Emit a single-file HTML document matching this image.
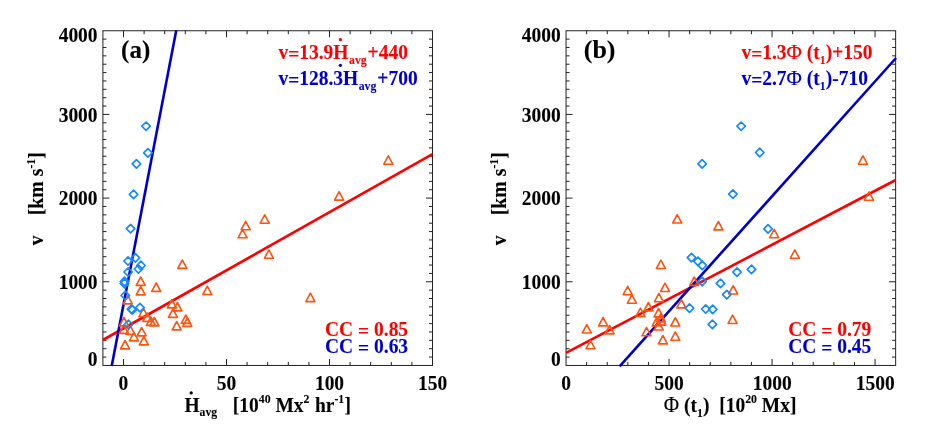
<!DOCTYPE html>
<html><head><meta charset="utf-8"><title>fig</title>
<style>
html,body{margin:0;padding:0;background:#fff;}
body{width:926px;height:431px;overflow:hidden;}
svg{display:block;will-change:transform;}
text{font-family:"Liberation Serif",serif;font-weight:bold;stroke-width:0.1px;stroke-linejoin:round;}
.reg{font-weight:normal;}
</style></head><body>
<svg width="926" height="431" viewBox="0 0 926 431">
<rect width="926" height="431" fill="#fff"/>
<g stroke="#222" stroke-width="1.0">
<rect x="102.90" y="30.75" width="329.60" height="334.70" fill="none"/>
<path d="M123.50 365.45v-6.5M123.50 30.75v6.5M144.10 365.45v-3.5M144.10 30.75v3.5M164.70 365.45v-3.5M164.70 30.75v3.5M185.30 365.45v-3.5M185.30 30.75v3.5M205.90 365.45v-3.5M205.90 30.75v3.5M226.50 365.45v-6.5M226.50 30.75v6.5M247.10 365.45v-3.5M247.10 30.75v3.5M267.70 365.45v-3.5M267.70 30.75v3.5M288.30 365.45v-3.5M288.30 30.75v3.5M308.90 365.45v-3.5M308.90 30.75v3.5M329.50 365.45v-6.5M329.50 30.75v6.5M350.10 365.45v-3.5M350.10 30.75v3.5M370.70 365.45v-3.5M370.70 30.75v3.5M391.30 365.45v-3.5M391.30 30.75v3.5M411.90 365.45v-3.5M411.90 30.75v3.5M102.90 357.08h3.5M432.50 357.08h-3.5M102.90 348.71h3.5M432.50 348.71h-3.5M102.90 340.35h3.5M432.50 340.35h-3.5M102.90 331.98h3.5M432.50 331.98h-3.5M102.90 323.61h3.5M432.50 323.61h-3.5M102.90 315.25h3.5M432.50 315.25h-3.5M102.90 306.88h3.5M432.50 306.88h-3.5M102.90 298.51h3.5M432.50 298.51h-3.5M102.90 290.14h3.5M432.50 290.14h-3.5M102.90 281.77h6.5M432.50 281.77h-6.5M102.90 273.41h3.5M432.50 273.41h-3.5M102.90 265.04h3.5M432.50 265.04h-3.5M102.90 256.67h3.5M432.50 256.67h-3.5M102.90 248.30h3.5M432.50 248.30h-3.5M102.90 239.94h3.5M432.50 239.94h-3.5M102.90 231.57h3.5M432.50 231.57h-3.5M102.90 223.20h3.5M432.50 223.20h-3.5M102.90 214.84h3.5M432.50 214.84h-3.5M102.90 206.47h3.5M432.50 206.47h-3.5M102.90 198.10h6.5M432.50 198.10h-6.5M102.90 189.73h3.5M432.50 189.73h-3.5M102.90 181.37h3.5M432.50 181.37h-3.5M102.90 173.00h3.5M432.50 173.00h-3.5M102.90 164.63h3.5M432.50 164.63h-3.5M102.90 156.26h3.5M432.50 156.26h-3.5M102.90 147.90h3.5M432.50 147.90h-3.5M102.90 139.53h3.5M432.50 139.53h-3.5M102.90 131.16h3.5M432.50 131.16h-3.5M102.90 122.79h3.5M432.50 122.79h-3.5M102.90 114.42h6.5M432.50 114.42h-6.5M102.90 106.06h3.5M432.50 106.06h-3.5M102.90 97.69h3.5M432.50 97.69h-3.5M102.90 89.32h3.5M432.50 89.32h-3.5M102.90 80.95h3.5M432.50 80.95h-3.5M102.90 72.59h3.5M432.50 72.59h-3.5M102.90 64.22h3.5M432.50 64.22h-3.5M102.90 55.85h3.5M432.50 55.85h-3.5M102.90 47.48h3.5M432.50 47.48h-3.5M102.90 39.12h3.5M432.50 39.12h-3.5" fill="none"/>
</g>
<g stroke-width="2.6" fill="none" stroke-linecap="butt">
<line x1="102.9" y1="340.0" x2="432.5" y2="154.1" stroke="#FF0000"/>
<line x1="111.7" y1="365.9" x2="176.28" y2="30.3" stroke="#0000CD"/>
</g>
<g stroke="#FF5410" stroke-width="1.6" fill="none" stroke-linejoin="round">
<path d="M383.8 164.2L388.3 155.8L392.8 164.2Z"/>
<path d="M334.6 200.1L339.1 191.7L343.6 200.1Z"/>
<path d="M260.2 223.2L264.7 214.8L269.2 223.2Z"/>
<path d="M241.2 229.7L245.7 221.3L250.2 229.7Z"/>
<path d="M238.1 237.8L242.6 229.4L247.1 237.8Z"/>
<path d="M264.4 258.3L268.9 249.9L273.4 258.3Z"/>
<path d="M177.8 268.4L182.3 260.0L186.8 268.4Z"/>
<path d="M136.2 285.4L140.7 277.0L145.2 285.4Z"/>
<path d="M151.7 291.4L156.2 283.0L160.7 291.4Z"/>
<path d="M202.8 294.5L207.3 286.1L211.8 294.5Z"/>
<path d="M136.2 294.9L140.7 286.5L145.2 294.9Z"/>
<path d="M305.9 301.6L310.4 293.2L314.9 301.6Z"/>
<path d="M123.3 303.9L127.8 295.5L132.3 303.9Z"/>
<path d="M167.4 307.9L171.9 299.5L176.4 307.9Z"/>
<path d="M172.9 310.9L177.4 302.5L181.9 310.9Z"/>
<path d="M138.9 316.8L143.4 308.4L147.9 316.8Z"/>
<path d="M168.4 317.4L172.9 309.0L177.4 317.4Z"/>
<path d="M142.9 321.4L147.4 313.0L151.9 321.4Z"/>
<path d="M181.3 323.4L185.8 315.0L190.3 323.4Z"/>
<path d="M146.4 325.4L150.9 317.0L155.4 325.4Z"/>
<path d="M149.9 325.9L154.4 317.5L158.9 325.9Z"/>
<path d="M119.5 325.9L124.0 317.5L128.5 325.9Z"/>
<path d="M182.8 326.4L187.3 318.0L191.8 326.4Z"/>
<path d="M172.2 329.9L176.7 321.5L181.2 329.9Z"/>
<path d="M119.3 333.4L123.8 325.0L128.3 333.4Z"/>
<path d="M125.9 334.4L130.4 326.0L134.9 334.4Z"/>
<path d="M137.2 335.9L141.7 327.5L146.2 335.9Z"/>
<path d="M129.4 340.9L133.9 332.5L138.4 340.9Z"/>
<path d="M139.4 344.9L143.9 336.5L148.4 344.9Z"/>
<path d="M120.5 348.9L125.0 340.5L129.5 348.9Z"/>
</g>
<g stroke="#148AFF" stroke-width="1.65" fill="none" stroke-linejoin="round">
<path d="M141.8 126.2L146.1 122.0L150.3 126.2L146.1 130.4Z"/>
<path d="M143.7 152.8L147.9 148.6L152.2 152.8L147.9 157.1Z"/>
<path d="M132.2 163.8L136.4 159.6L140.7 163.8L136.4 168.1Z"/>
<path d="M129.3 194.4L133.6 190.2L137.8 194.4L133.6 198.7Z"/>
<path d="M126.3 228.7L130.6 224.4L134.8 228.7L130.6 232.9Z"/>
<path d="M131.2 257.8L135.4 253.6L139.7 257.8L135.4 262.1Z"/>
<path d="M123.8 261.0L128.0 256.8L132.2 261.0L128.0 265.2Z"/>
<path d="M136.7 265.5L140.9 261.2L145.2 265.5L140.9 269.8Z"/>
<path d="M134.2 269.0L138.4 264.8L142.7 269.0L138.4 273.2Z"/>
<path d="M123.9 272.0L128.2 267.8L132.4 272.0L128.2 276.2Z"/>
<path d="M120.2 281.5L124.5 277.2L128.8 281.5L124.5 285.8Z"/>
<path d="M120.2 283.5L124.5 279.2L128.8 283.5L124.5 287.8Z"/>
<path d="M121.0 295.5L125.3 291.2L129.6 295.5L125.3 299.8Z"/>
<path d="M135.7 307.6L139.9 303.4L144.2 307.6L139.9 311.9Z"/>
<path d="M127.2 309.0L131.5 304.8L135.8 309.0L131.5 313.2Z"/>
<path d="M128.1 309.8L132.3 305.6L136.6 309.8L132.3 314.1Z"/>
<path d="M124.2 324.5L128.5 320.2L132.8 324.5L128.5 328.8Z"/>
</g>
<text transform="translate(97.60 42.45) scale(1 1.085)" font-size="19.5" fill="#000" stroke="#000" text-anchor="end">4000</text>
<text transform="translate(97.60 121.65) scale(1 1.085)" font-size="19.5" fill="#000" stroke="#000" text-anchor="end">3000</text>
<text transform="translate(97.60 205.35) scale(1 1.085)" font-size="19.5" fill="#000" stroke="#000" text-anchor="end">2000</text>
<text transform="translate(97.60 289.05) scale(1 1.085)" font-size="19.5" fill="#000" stroke="#000" text-anchor="end">1000</text>
<text transform="translate(97.60 366.40) scale(1 1.085)" font-size="19.5" fill="#000" stroke="#000" text-anchor="end">0</text>
<g stroke="#222" stroke-width="1.0">
<rect x="566.05" y="30.75" width="329.60" height="334.70" fill="none"/>
<path d="M586.65 365.45v-3.5M586.65 30.75v3.5M607.25 365.45v-3.5M607.25 30.75v3.5M627.85 365.45v-3.5M627.85 30.75v3.5M648.45 365.45v-3.5M648.45 30.75v3.5M669.05 365.45v-6.5M669.05 30.75v6.5M689.65 365.45v-3.5M689.65 30.75v3.5M710.25 365.45v-3.5M710.25 30.75v3.5M730.85 365.45v-3.5M730.85 30.75v3.5M751.45 365.45v-3.5M751.45 30.75v3.5M772.05 365.45v-6.5M772.05 30.75v6.5M792.65 365.45v-3.5M792.65 30.75v3.5M813.25 365.45v-3.5M813.25 30.75v3.5M833.85 365.45v-3.5M833.85 30.75v3.5M854.45 365.45v-3.5M854.45 30.75v3.5M875.05 365.45v-6.5M875.05 30.75v6.5M566.05 357.08h3.5M895.65 357.08h-3.5M566.05 348.71h3.5M895.65 348.71h-3.5M566.05 340.35h3.5M895.65 340.35h-3.5M566.05 331.98h3.5M895.65 331.98h-3.5M566.05 323.61h3.5M895.65 323.61h-3.5M566.05 315.25h3.5M895.65 315.25h-3.5M566.05 306.88h3.5M895.65 306.88h-3.5M566.05 298.51h3.5M895.65 298.51h-3.5M566.05 290.14h3.5M895.65 290.14h-3.5M566.05 281.77h6.5M895.65 281.77h-6.5M566.05 273.41h3.5M895.65 273.41h-3.5M566.05 265.04h3.5M895.65 265.04h-3.5M566.05 256.67h3.5M895.65 256.67h-3.5M566.05 248.30h3.5M895.65 248.30h-3.5M566.05 239.94h3.5M895.65 239.94h-3.5M566.05 231.57h3.5M895.65 231.57h-3.5M566.05 223.20h3.5M895.65 223.20h-3.5M566.05 214.84h3.5M895.65 214.84h-3.5M566.05 206.47h3.5M895.65 206.47h-3.5M566.05 198.10h6.5M895.65 198.10h-6.5M566.05 189.73h3.5M895.65 189.73h-3.5M566.05 181.37h3.5M895.65 181.37h-3.5M566.05 173.00h3.5M895.65 173.00h-3.5M566.05 164.63h3.5M895.65 164.63h-3.5M566.05 156.26h3.5M895.65 156.26h-3.5M566.05 147.90h3.5M895.65 147.90h-3.5M566.05 139.53h3.5M895.65 139.53h-3.5M566.05 131.16h3.5M895.65 131.16h-3.5M566.05 122.79h3.5M895.65 122.79h-3.5M566.05 114.42h6.5M895.65 114.42h-6.5M566.05 106.06h3.5M895.65 106.06h-3.5M566.05 97.69h3.5M895.65 97.69h-3.5M566.05 89.32h3.5M895.65 89.32h-3.5M566.05 80.95h3.5M895.65 80.95h-3.5M566.05 72.59h3.5M895.65 72.59h-3.5M566.05 64.22h3.5M895.65 64.22h-3.5M566.05 55.85h3.5M895.65 55.85h-3.5M566.05 47.48h3.5M895.65 47.48h-3.5M566.05 39.12h3.5M895.65 39.12h-3.5" fill="none"/>
</g>
<g stroke-width="2.6" fill="none" stroke-linecap="butt">
<line x1="566.0" y1="352.8" x2="895.7" y2="180.0" stroke="#FF0000"/>
<line x1="619.6" y1="366.3" x2="896.0" y2="58.0" stroke="#0000CD"/>
</g>
<g stroke="#FF5410" stroke-width="1.6" fill="none" stroke-linejoin="round">
<path d="M858.4 164.2L862.9 155.8L867.4 164.2Z"/>
<path d="M864.5 200.2L869.0 191.8L873.5 200.2Z"/>
<path d="M672.7 223.0L677.2 214.6L681.7 223.0Z"/>
<path d="M713.9 229.9L718.4 221.5L722.9 229.9Z"/>
<path d="M769.7 237.7L774.2 229.3L778.7 237.7Z"/>
<path d="M790.3 258.2L794.8 249.8L799.3 258.2Z"/>
<path d="M656.4 268.5L660.9 260.1L665.4 268.5Z"/>
<path d="M689.7 285.4L694.2 277.0L698.7 285.4Z"/>
<path d="M660.5 291.5L665.0 283.1L669.5 291.5Z"/>
<path d="M623.2 294.7L627.7 286.3L632.2 294.7Z"/>
<path d="M728.7 294.0L733.2 285.6L737.7 294.0Z"/>
<path d="M654.4 301.8L658.9 293.4L663.4 301.8Z"/>
<path d="M627.4 303.2L631.9 294.8L636.4 303.2Z"/>
<path d="M676.8 307.9L681.3 299.5L685.8 307.9Z"/>
<path d="M643.9 310.9L648.4 302.5L652.9 310.9Z"/>
<path d="M635.9 316.5L640.4 308.1L644.9 316.5Z"/>
<path d="M654.1 316.9L658.6 308.5L663.1 316.9Z"/>
<path d="M656.4 321.9L660.9 313.5L665.4 321.9Z"/>
<path d="M728.1 323.5L732.6 315.1L737.1 323.5Z"/>
<path d="M656.9 325.1L661.4 316.7L665.9 325.1Z"/>
<path d="M598.6 325.9L603.1 317.5L607.6 325.9Z"/>
<path d="M652.2 325.9L656.7 317.5L661.2 325.9Z"/>
<path d="M670.8 326.0L675.3 317.6L679.8 326.0Z"/>
<path d="M654.2 330.0L658.7 321.6L663.2 330.0Z"/>
<path d="M582.3 333.0L586.8 324.6L591.3 333.0Z"/>
<path d="M605.1 333.9L609.6 325.5L614.1 333.9Z"/>
<path d="M642.0 335.8L646.5 327.4L651.0 335.8Z"/>
<path d="M670.8 340.3L675.3 331.9L679.8 340.3Z"/>
<path d="M658.4 343.9L662.9 335.5L667.4 343.9Z"/>
<path d="M586.0 348.8L590.5 340.4L595.0 348.8Z"/>
</g>
<g stroke="#148AFF" stroke-width="1.65" fill="none" stroke-linejoin="round">
<path d="M736.9 126.2L741.1 122.0L745.4 126.2L741.1 130.4Z"/>
<path d="M755.5 152.5L759.7 148.2L764.0 152.5L759.7 156.8Z"/>
<path d="M697.9 163.9L702.1 159.7L706.4 163.9L702.1 168.2Z"/>
<path d="M728.6 194.2L732.9 189.9L737.1 194.2L732.9 198.4Z"/>
<path d="M763.8 228.8L768.0 224.6L772.2 228.8L768.0 233.1Z"/>
<path d="M687.2 257.6L691.5 253.4L695.8 257.6L691.5 261.9Z"/>
<path d="M693.8 261.3L698.0 257.1L702.2 261.3L698.0 265.6Z"/>
<path d="M698.0 265.4L702.3 261.1L706.5 265.4L702.3 269.6Z"/>
<path d="M747.2 269.3L751.5 265.1L755.8 269.3L751.5 273.6Z"/>
<path d="M732.8 272.1L737.0 267.9L741.2 272.1L737.0 276.4Z"/>
<path d="M697.9 281.5L702.1 277.2L706.4 281.5L702.1 285.8Z"/>
<path d="M716.2 283.4L720.5 279.1L724.8 283.4L720.5 287.6Z"/>
<path d="M722.5 294.7L726.8 290.4L731.0 294.7L726.8 298.9Z"/>
<path d="M685.2 308.1L689.5 303.9L693.8 308.1L689.5 312.4Z"/>
<path d="M701.5 309.0L705.7 304.8L710.0 309.0L705.7 313.2Z"/>
<path d="M708.5 309.4L712.7 305.1L717.0 309.4L712.7 313.6Z"/>
<path d="M708.1 324.4L712.4 320.1L716.6 324.4L712.4 328.6Z"/>
</g>
<text transform="translate(560.75 42.45) scale(1 1.085)" font-size="19.5" fill="#000" stroke="#000" text-anchor="end">4000</text>
<text transform="translate(560.75 121.65) scale(1 1.085)" font-size="19.5" fill="#000" stroke="#000" text-anchor="end">3000</text>
<text transform="translate(560.75 205.35) scale(1 1.085)" font-size="19.5" fill="#000" stroke="#000" text-anchor="end">2000</text>
<text transform="translate(560.75 289.05) scale(1 1.085)" font-size="19.5" fill="#000" stroke="#000" text-anchor="end">1000</text>
<text transform="translate(560.75 366.40) scale(1 1.085)" font-size="19.5" fill="#000" stroke="#000" text-anchor="end">0</text>
<text transform="translate(123.30 390.35) scale(1 1.085)" font-size="19.5" fill="#000" stroke="#000" text-anchor="middle">0</text>
<text transform="translate(226.40 390.35) scale(1 1.085)" font-size="19.5" fill="#000" stroke="#000" text-anchor="middle">50</text>
<text transform="translate(329.50 390.35) scale(1 1.085)" font-size="19.5" fill="#000" stroke="#000" text-anchor="middle">100</text>
<text transform="translate(432.60 390.35) scale(1 1.085)" font-size="19.5" fill="#000" stroke="#000" text-anchor="middle">150</text>
<text transform="translate(566.00 390.35) scale(1 1.085)" font-size="19.5" fill="#000" stroke="#000" text-anchor="middle">0</text>
<text transform="translate(669.10 390.35) scale(1 1.085)" font-size="19.5" fill="#000" stroke="#000" text-anchor="middle">500</text>
<text transform="translate(772.20 390.35) scale(1 1.085)" font-size="19.5" fill="#000" stroke="#000" text-anchor="middle">1000</text>
<text transform="translate(875.30 390.35) scale(1 1.085)" font-size="19.5" fill="#000" stroke="#000" text-anchor="middle">1500</text>
<text transform="translate(121.1 58.2) scale(1 1.02)" font-size="25" stroke="#000">(a)</text>
<text transform="translate(583.75 58.2) scale(1 0.99)" font-size="26" stroke="#000">(b)</text>
<text transform="translate(278.40 58.95) scale(1 1.04)" font-size="19.5" fill="#FF0000" stroke="#FF0000" text-anchor="start">v<tspan dy="1.84">=</tspan><tspan dy="-1.84">13.9</tspan>H<tspan font-size="11.8" dy="4.88" dx="0.5">avg</tspan><tspan dy="-4.88" dx="0.9">+440</tspan></text><circle cx="340.4" cy="39.7" r="1.65" fill="#FF0000"/>
<text transform="translate(278.40 84.95) scale(1 1.04)" font-size="19.5" fill="#0000CD" stroke="#0000CD" text-anchor="start">v<tspan dy="1.84">=</tspan><tspan dy="-1.84">128.3</tspan>H<tspan font-size="11.8" dy="4.88" dx="0.5">avg</tspan><tspan dy="-4.88" dx="0.9">+700</tspan></text><circle cx="340.4" cy="65.3" r="1.65" fill="#0000CD"/>
<text transform="translate(741.40 58.95) scale(1 1.04)" font-size="19.5" fill="#FF0000" stroke="#FF0000" text-anchor="start">v<tspan dy="1.84">=</tspan><tspan dy="-1.84">1.3</tspan><tspan class="reg" font-size="21">Φ</tspan> (t<tspan font-size="11.8" dy="5.16">1</tspan><tspan dy="-5.16">)+150</tspan></text>
<text transform="translate(741.40 84.95) scale(1 1.04)" font-size="19.5" fill="#0000CD" stroke="#0000CD" text-anchor="start">v<tspan dy="1.84">=</tspan><tspan dy="-1.84">2.7</tspan><tspan class="reg" font-size="21">Φ</tspan> (t<tspan font-size="11.8" dy="5.16">1</tspan><tspan dy="-5.16">)-710</tspan></text>
<text transform="translate(325.00 336.30) scale(1 1.06)" font-size="19.5" fill="#FF0000" stroke="#FF0000" text-anchor="start">CC <tspan dy="1.47">=</tspan><tspan dy="-1.47"> 0.85</tspan></text>
<text transform="translate(325.00 353.20) scale(1 1.06)" font-size="19.5" fill="#0000CD" stroke="#0000CD" text-anchor="start">CC <tspan dy="1.47">=</tspan><tspan dy="-1.47"> 0.63</tspan></text>
<text transform="translate(788.15 336.30) scale(1 1.06)" font-size="19.5" fill="#FF0000" stroke="#FF0000" text-anchor="start">CC <tspan dy="1.47">=</tspan><tspan dy="-1.47"> 0.79</tspan></text>
<text transform="translate(788.15 353.20) scale(1 1.06)" font-size="19.5" fill="#0000CD" stroke="#0000CD" text-anchor="start">CC <tspan dy="1.47">=</tspan><tspan dy="-1.47"> 0.45</tspan></text>
<text transform="translate(184.40 412.00) scale(1 1.055)" font-size="19.5" fill="#000" stroke="#000" text-anchor="start">H<tspan font-size="11.8" dy="3.79">avg</tspan></text>
<circle cx="191.2" cy="392.9" r="1.65" fill="#000"/>
<text transform="translate(232.80 412.00) scale(1 1.055)" font-size="19.5" fill="#000" stroke="#000" text-anchor="start">[10<tspan font-size="11.8" dy="-8.53">40</tspan><tspan dy="8.53"> Mx</tspan><tspan font-size="11.8" dy="-8.53">2</tspan><tspan dy="8.53" dx="0.6"> hr</tspan><tspan font-size="11.8" dy="-8.53">-1</tspan><tspan dy="8.53" dx="0.3">]</tspan></text>
<text transform="translate(663.80 412.00) scale(1 1.055)" font-size="19.5" fill="#000" stroke="#000" text-anchor="start"><tspan class="reg" font-size="21">Φ</tspan> (t<tspan font-size="11.8" dy="4.74">1</tspan><tspan dy="-4.74">)</tspan></text>
<text transform="translate(719.20 412.00) scale(1 1.055)" font-size="19.5" fill="#000" stroke="#000" text-anchor="start">[10<tspan font-size="11.8" dy="-8.53">20</tspan><tspan dy="8.53"> Mx]</tspan></text>
<text transform="translate(42.9 245.2) rotate(-90) scale(1 1.03)" font-size="19.5" stroke="#000">v</text>
<text transform="translate(42.9 215.2) rotate(-90) scale(1 1.03)" font-size="19.75" stroke="#000">[km s<tspan font-size="11.8" dy="-7.86">-1</tspan><tspan dy="7.86">]</tspan></text>
<text transform="translate(506.0 245.2) rotate(-90) scale(1 1.03)" font-size="19.5" stroke="#000">v</text>
<text transform="translate(506.0 215.2) rotate(-90) scale(1 1.03)" font-size="19.75" stroke="#000">[km s<tspan font-size="11.8" dy="-7.86">-1</tspan><tspan dy="7.86">]</tspan></text>
</svg></body></html>
